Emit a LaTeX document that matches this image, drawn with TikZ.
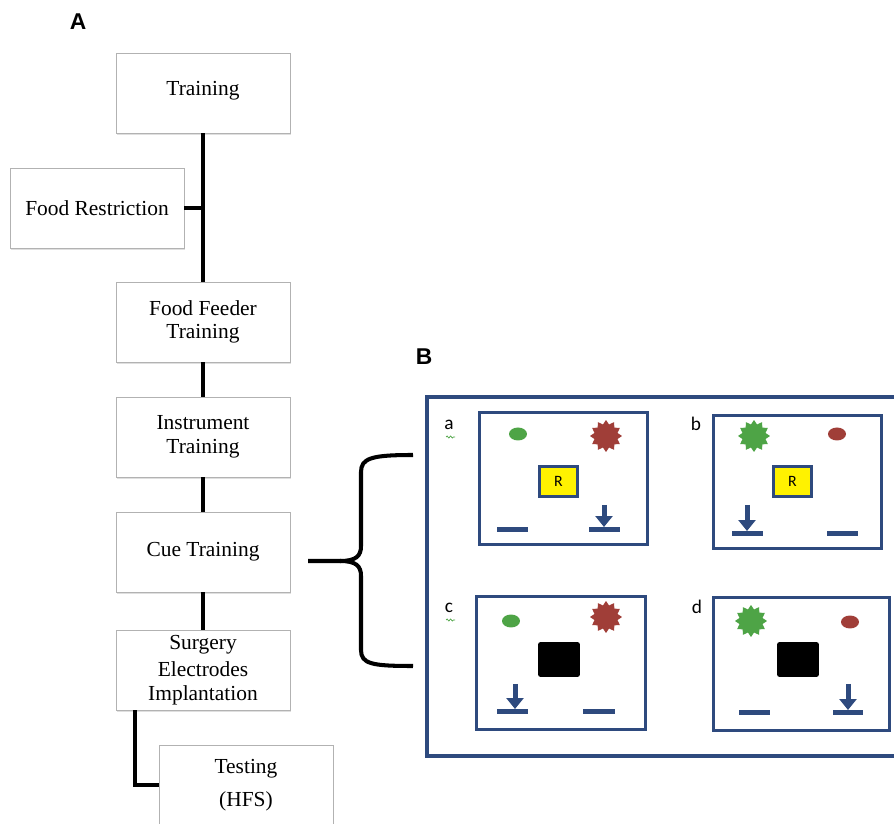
\documentclass[tikz,border=0pt]{standalone}
\usepackage{fontspec}
\setmainfont{Liberation Serif}
\setsansfont{Liberation Sans}
\newfontfamily\panelfont{Carlito}
\usepackage{xcolor}
\usepackage{tikz}
\usetikzlibrary{arrows.meta,positioning,shapes.geometric,shadows,decorations.pathmorphing}

\definecolor{boxblue}{RGB}{46,74,126}
\definecolor{cuegreen}{RGB}{78,164,70}
\definecolor{cuered}{RGB}{160,62,56}

\begin{document}
\begin{tikzpicture}[
    x=0.02cm, y=-0.02cm,
    font=\fontsize{12.2}{13.5}\selectfont,
    stage/.style={draw=gray!60, fill=white, minimum width=3.48cm, minimum height=1.6cm,
                  align=center, inner sep=2pt,
                  drop shadow={opacity=0.25, shadow xshift=0.7pt, shadow yshift=-0.9pt}},
    link/.style={line width=2.3pt},
    frame/.style={draw=boxblue, line width=2.3pt},
    cage/.style={draw=boxblue, line width=1.7pt, minimum width=3.38cm, minimum height=2.66cm},
    lever/.style={boxblue, line width=0.1cm},
    press/.style={boxblue, line width=0.1cm, -{Triangle[width=0.34cm,length=0.22cm]}},
    light/.style={ellipse, minimum width=0.36cm, minimum height=0.26cm, inner sep=0},
    flash/.style={star, star points=12, star point ratio=1.35, minimum size=0.64cm, inner sep=0},
    reward/.style={draw=boxblue, line width=1.7pt, fill=yellow, minimum width=0.76cm,
                   minimum height=0.6cm, inner sep=0, font=\panelfont\small},
    dark/.style={fill=black, rounded corners=1.5pt, minimum width=0.84cm, minimum height=0.7cm},
    tag/.style={font=\panelfont\fontsize{11}{12}\selectfont, inner sep=0},
    squig/.style={cuegreen, line width=0.4pt, decorate,
                  decoration={snake, segment length=2pt, amplitude=0.6pt}},
    panellabel/.style={font=\sffamily\bfseries\fontsize{13}{14}\selectfont}
]
\clip (0,0) rectangle (894,824);

% --- A: training time line ---
\node[panellabel] (labA) at (78,22) {A};

\node[stage] (train)   at (203,93)  {Training\\[-8pt]\mbox{}};
\node[stage] (foodres) at (97,208)  {Food Restriction};
\node[stage] (feeder)  at (203,322) {Food Feeder\\Training};
\node[stage] (instr)   at (203,437) {Instrument\\Training};
\node[stage] (cue)     at (203,552) {Cue Training};
\node[stage] (surg)    at (203,670) {Surgery\\[2pt]Electrodes\\Implantation};
\node[stage] (test)    at (246,785) {Testing\\[5pt](HFS)};

% trunk
\draw[link] (train.south) -- (feeder.north);
\draw[link] (feeder.south) -- (instr.north);
\draw[link] (instr.south) -- (cue.north);
\draw[link] (cue.south) -- (surg.north);
\draw[link] (foodres.east) -- (foodres.east -| train.south);
\draw[link] (surg.south west) ++(19,0) |- (test.west);

% brace towards B
\coordinate (brtip) at (308,561);
\coordinate (brtop) at (413,455);
\coordinate (brbot) at (413,666);
\draw[link] (brtop) .. controls (372,455) and (361,458) .. (361,472) -- (361,546)
    .. controls (361,556) and (356,561) .. (340,561) -- (brtip);
\draw[link] (340,561) .. controls (356,561) and (361,566) .. (361,576) -- (361,650)
    .. controls (361,664) and (372,666) .. (brbot);

% --- B: cue conditions ---
\node[panellabel] (labB) at (424,357) {B};
\draw[frame] (427,397) rectangle (910,756);

\node[cage] (pa) at (563.5,478.5) {};
\node[cage] (pb) at (797.5,482) {};
\node[cage] (pc) at (561,663) {};
\node[cage, minimum width=3.52cm] (pd) at (801.5,664) {};

\node[tag] (ta) at (449,425) {a};
\node[tag] (tb) at (696,424) {b};
\node[tag] (tc) at (449,608) {c};
\node[tag] (td) at (697,607) {d};
\draw[squig] (446,437) -- (455,437);
\draw[squig] (446,620) -- (455,620);

% a
\node[light, fill=cuegreen] (la1) at (518,434) {};
\node[flash, fill=cuered]   (fa1) at (606,436) {};
\node[reward] (ra) at (558.5,481.5) {R};
\draw[lever] (497,530) -- (528,530);
\draw[lever] (589,530) -- (620,530);
\draw[press] (604,505) -- (604,527);

% b
\node[flash, fill=cuegreen] (fb1) at (754,436) {};
\node[light, fill=cuered]   (lb1) at (837,434) {};
\node[reward] (rb) at (792.5,481.5) {R};
\draw[lever] (732,534) -- (763,534);
\draw[lever] (827,534) -- (858,534);
\draw[press] (747,505) -- (747,531);

% c
\node[light, fill=cuegreen] (lc1) at (511,621) {};
\node[flash, fill=cuered]   (fc1) at (606,617) {};
\node[dark] (dc) at (559,659.5) {};
\draw[lever] (497,712) -- (528,712);
\draw[lever] (583,712) -- (615,712);
\draw[press] (515,684) -- (515,709);

% d
\node[flash, fill=cuegreen] (fd1) at (751,621) {};
\node[light, fill=cuered]   (ld1) at (850,622) {};
\node[dark] (dd) at (798,659.5) {};
\draw[lever] (739,713) -- (770,713);
\draw[lever] (833,713) -- (863,713);
\draw[press] (848,684) -- (848,710);

\end{tikzpicture}
\end{document}
